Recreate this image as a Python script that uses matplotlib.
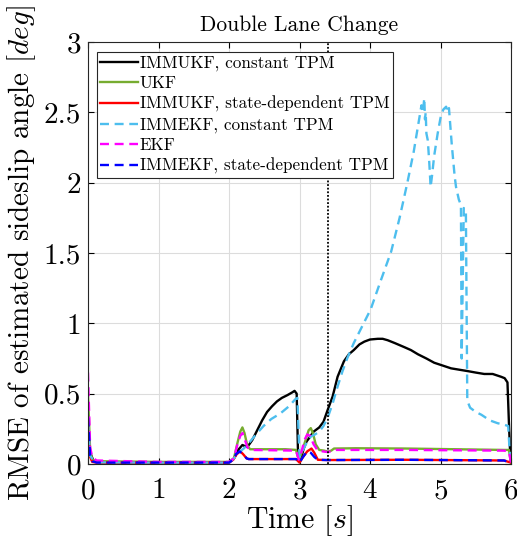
import numpy as np
import matplotlib
matplotlib.use("Agg")
import matplotlib.pyplot as plt

plt.rcParams['font.family'] = 'serif'
plt.rcParams['font.serif'] = ['cmr10']
plt.rcParams['mathtext.fontset'] = 'cm'
plt.rcParams['axes.formatter.use_mathtext'] = True

# IMMUKF, constant TPM
t_immukf_c = [0, 0.03, 0.08, 0.15, 0.5, 1.0, 1.5, 2.0, 2.07, 2.13, 2.19, 2.26, 2.33, 2.40, 2.47,
              2.54, 2.61, 2.68, 2.75, 2.83, 2.90, 2.93, 2.96, 2.98, 3.01, 3.06, 3.10, 3.13, 3.20,
              3.28, 3.34, 3.40, 3.47, 3.54, 3.63, 3.70, 3.77, 3.85, 3.92, 4.00, 4.11, 4.18, 4.25,
              4.35, 4.49, 4.58, 4.68, 4.80, 4.91, 5.03, 5.15, 5.27, 5.39, 5.50, 5.62, 5.74, 5.86,
              5.91, 5.95, 5.97, 5.99, 6.0]
y_immukf_c = [0.30, 0.08, 0.02, 0.012, 0.01, 0.01, 0.01, 0.01, 0.04, 0.10, 0.135, 0.12, 0.17, 0.24,
              0.31, 0.37, 0.41, 0.445, 0.47, 0.49, 0.51, 0.52, 0.50, 0.05, 0.02, 0.11, 0.16, 0.18,
              0.23, 0.26, 0.30, 0.385, 0.48, 0.62, 0.73, 0.78, 0.81, 0.85, 0.87, 0.885, 0.89, 0.89,
              0.88, 0.86, 0.83, 0.81, 0.78, 0.75, 0.72, 0.70, 0.68, 0.67, 0.66, 0.65, 0.64, 0.64,
              0.62, 0.61, 0.58, 0.30, 0.05, 0.02]

# UKF
t_ukf = [0, 0.03, 0.06, 0.12, 1.0, 2.0, 2.07, 2.12, 2.16, 2.19, 2.22, 2.26, 2.30, 2.50, 2.80,
         2.95, 2.99, 3.03, 3.08, 3.13, 3.16, 3.19, 3.23, 3.28, 3.35, 3.40, 3.45, 3.49, 3.80, 4.50,
         5.20, 5.90, 5.97, 6.0]
y_ukf = [0.49, 0.10, 0.03, 0.02, 0.015, 0.015, 0.04, 0.15, 0.23, 0.26, 0.22, 0.13, 0.105, 0.105,
         0.105, 0.10, 0.03, 0.08, 0.16, 0.24, 0.255, 0.22, 0.14, 0.10, 0.095, 0.088, 0.095, 0.11,
         0.112, 0.11, 0.105, 0.10, 0.10, 0.01]

# IMMUKF, state-dependent TPM
t_immukf_s = [0, 0.03, 0.06, 0.12, 1.0, 2.0, 2.06, 2.11, 2.16, 2.20, 2.25, 2.28, 2.95, 3.00, 3.05,
              3.11, 3.17, 3.21, 3.26, 3.40, 4.5, 5.9, 6.0]
y_immukf_s = [0.27, 0.05, 0.015, 0.01, 0.01, 0.01, 0.03, 0.07, 0.09, 0.07, 0.04, 0.035, 0.035, 0.01,
              0.05, 0.09, 0.11, 0.08, 0.03, 0.028, 0.03, 0.025, 0.01]

# IMMEKF, constant TPM
t_immekf_c = [0, 0.03, 0.08, 0.15, 1.0, 2.0, 2.07, 2.13, 2.21, 2.30, 2.40, 2.49, 2.60, 2.73, 2.85,
              2.94, 2.97, 3.00, 3.04, 3.10, 3.16, 3.22, 3.28, 3.34, 3.40, 3.47, 3.54, 3.61, 3.68,
              3.77, 3.87, 4.01, 4.15, 4.30, 4.42, 4.53, 4.62, 4.69, 4.73, 4.75, 4.77, 4.78, 4.79,
              4.80, 4.82, 4.84, 4.86, 4.88, 4.91, 4.96, 5.00, 5.04, 5.08, 5.10, 5.12, 5.16, 5.20,
              5.22, 5.26, 5.29, 5.30, 5.33, 5.36, 5.38, 5.42, 5.50, 5.58, 5.70, 5.81, 5.90, 5.96,
              5.98, 6.0]
y_immekf_c = [0.30, 0.06, 0.02, 0.012, 0.01, 0.01, 0.04, 0.08, 0.11, 0.16, 0.22, 0.27, 0.32, 0.36,
              0.41, 0.46, 0.47, 0.05, 0.09, 0.15, 0.195, 0.21, 0.23, 0.27, 0.33, 0.43, 0.55, 0.66,
              0.755, 0.86, 0.96, 1.10, 1.30, 1.51, 1.75, 2.0, 2.22, 2.43, 2.55, 2.50, 2.60, 2.45,
              2.50, 2.35, 2.30, 2.15, 1.97, 2.05, 2.19, 2.35, 2.46, 2.52, 2.54, 2.50, 2.53, 2.27,
              2.05, 1.97, 1.88, 1.84, 0.75, 1.82, 1.80, 0.45, 0.40, 0.37, 0.35, 0.31, 0.29, 0.28,
              0.27, 0.10, 0.03]

# EKF
t_ekf = [0, 0.03, 0.06, 0.12, 1.0, 2.0, 2.07, 2.12, 2.16, 2.19, 2.22, 2.26, 2.30, 2.95, 2.99,
         3.03, 3.07, 3.11, 3.15, 3.20, 3.26, 3.35, 3.40, 3.45, 3.49, 4.5, 5.9, 5.97, 6.0]
y_ekf = [0.65, 0.12, 0.05, 0.025, 0.015, 0.015, 0.04, 0.14, 0.20, 0.22, 0.18, 0.12, 0.10, 0.095,
         0.03, 0.09, 0.17, 0.21, 0.20, 0.14, 0.095, 0.088, 0.085, 0.09, 0.10, 0.10, 0.095, 0.09,
         0.01]

# IMMEKF, state-dependent TPM
t_immekf_s = [0, 0.03, 0.06, 0.12, 1.0, 2.0, 2.06, 2.10, 2.15, 2.20, 2.25, 2.28, 2.95, 3.00, 3.05,
              3.11, 3.16, 3.21, 3.26, 3.40, 4.5, 5.9, 6.0]
y_immekf_s = [0.33, 0.06, 0.02, 0.01, 0.01, 0.01, 0.03, 0.07, 0.09, 0.07, 0.04, 0.035, 0.035, 0.01,
              0.05, 0.09, 0.08, 0.05, 0.03, 0.028, 0.03, 0.025, 0.01]

event_t = 3.4
xticks = [0, 1, 2, 3, 4, 5, 6]
yticks = [0, 0.5, 1, 1.5, 2, 2.5, 3]
ytick_labels = ['0', '0.5', '1', '1.5', '2', '2.5', '3']

fig = plt.figure(figsize=(5.17, 5.38), dpi=100)
ax = fig.add_axes([88/517, 1-464/538, 423/517, 422/538])

lw = 1.7
dash = (3.8, 2.4)
ax.plot(t_immukf_c, y_immukf_c, color='k', lw=lw, label='IMMUKF, constant TPM')
ax.plot(t_ukf, y_ukf, color=(0.466, 0.674, 0.188), lw=lw, label='UKF')
ax.plot(t_immukf_s, y_immukf_s, color='r', lw=lw, label='IMMUKF, state-dependent TPM')
ax.plot(t_immekf_c, y_immekf_c, color=(0.301, 0.745, 0.933), lw=lw, dashes=dash,
        label='IMMEKF, constant TPM')
ax.plot(t_ekf, y_ekf, color='#ff00ff', lw=lw, dashes=dash, label='EKF')
ax.plot(t_immekf_s, y_immekf_s, color='b', lw=lw, dashes=dash,
        label='IMMEKF, state-dependent TPM')
ax.axvline(event_t, color='k', lw=1.3, linestyle=(0, (1, 1)))

ax.set_xlim(0, 6)
ax.set_ylim(0, 3)
ax.set_xticks(xticks)
ax.set_yticks(yticks)
ax.set_yticklabels(ytick_labels)
ax.grid(True, color='#dcdcdc', lw=0.8)
ax.set_axisbelow(True)
ax.tick_params(direction='in', top=True, right=True, labelsize=21, length=4, width=0.8)
ax.tick_params(axis='x', pad=10)
ax.tick_params(axis='y', pad=5)
for s in ax.spines.values():
    s.set_linewidth(0.8)
    s.set_color('#262626')

ax.set_title('Double Lane Change', fontsize=15.5, pad=8)
ax.set_xlabel(r'Time $[s]$', fontsize=21.5, labelpad=-1)
ax.set_ylabel(r'RMSE of estimated sideslip angle $[deg]$', fontsize=21, labelpad=4)

leg = ax.legend(loc='upper left', bbox_to_anchor=(0.021, 0.976), fontsize=12.3,
                frameon=True, fancybox=False, handlelength=2.2, handletextpad=0.1,
                labelspacing=0.28, borderpad=0.2, borderaxespad=0)
leg.get_frame().set_edgecolor('#262626')
leg.get_frame().set_linewidth(0.8)
leg.get_frame().set_alpha(1)

fig.savefig('out.png', dpi=100)
